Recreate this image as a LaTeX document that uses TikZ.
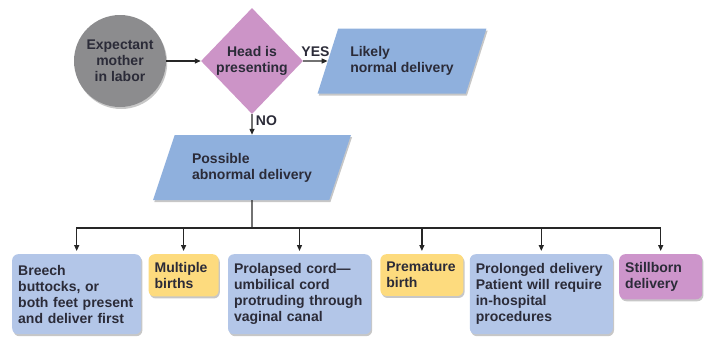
\documentclass[tikz,border=0pt]{standalone}
\usepackage{fontspec}
\setmainfont{Liberation Sans}
\usepackage{xcolor}
\usetikzlibrary{arrows.meta,positioning,shapes.geometric,shadows}
\definecolor{MotherGray}{HTML}{8C8C8E}
\definecolor{DecisionPink}{HTML}{CC94C7}
\definecolor{OutcomeBlue}{HTML}{8FB0DD}
\definecolor{CaseBlue}{HTML}{B3C6E8}
\definecolor{CaseYellow}{HTML}{FDDB7E}
\definecolor{CasePurple}{HTML}{CD95CB}
\definecolor{LabelInk}{HTML}{2B2B38}
\newcommand{\chartfont}{\fontsize{14}{16}\selectfont\bfseries}
\tikzset{
  softshadow/.style={
    drop shadow={shadow xshift=1.2pt, shadow yshift=-2pt, opacity=0.22, fill=black}
  },
  startnode/.style={
    circle,
    fill=MotherGray,
    minimum size=92pt,
    inner sep=0pt,
    align=center,
    font=\chartfont,
    text=LabelInk,
    softshadow
  },
  decision/.style={
    diamond,
    fill=DecisionPink,
    minimum width=102pt,
    minimum height=106pt,
    inner sep=0pt,
    align=center,
    font=\chartfont,
    text=LabelInk
  },
  outcome/.style={
    trapezium,
    trapezium left angle=60,
    trapezium right angle=120,
    trapezium stretches=true,
    fill=OutcomeBlue,
    minimum height=65pt,
    inner sep=0pt,
    align=left,
    font=\chartfont,
    text=LabelInk,
    softshadow
  },
  casebox/.style={
    rounded corners=6pt,
    inner xsep=6pt,
    inner ysep=8pt,
    align=left,
    font=\chartfont,
    text=LabelInk,
    softshadow
  },
  tallbox/.style={casebox, minimum height=80pt},
  arrow/.style={-{Triangle[length=6pt,width=5pt]}, line width=1.3pt, draw=black!85},
  branch/.style={line width=1.3pt, draw=black!85}
}

\begin{document}
\begin{tikzpicture}[x=1pt,y=-1pt]
  \useasboundingbox (0,0) rectangle (712,343);
  \node[startnode] (mother) at (120,61) {Expectant\\mother\\in labor};
  \node[decision] (head) at (252,61) {Head is\\presenting};
  \node[outcome, minimum width=169pt] (likely) at (402,61)
    {Likely\\normal delivery};
  \node[outcome, minimum width=198pt] (possible) at (252,167.5)
    {Possible\\abnormal delivery};
  \coordinate (split) at (252,228);
  % row of abnormal cases
  \node[tallbox, fill=CaseBlue, text width=117pt, anchor=north west] (breech) at (12,254)
    {Breech\\buttocks, or\\both feet present\\and deliver first};
  \node[casebox, fill=CaseYellow, text width=58pt, right=7pt of breech.north east, anchor=north west] (multiple)
    {Multiple\\births};
  \node[tallbox, fill=CaseBlue, text width=131pt, right=9pt of multiple.north east, anchor=north west] (prolapsed)
    {Prolapsed cord—\\umbilical cord\\protruding through\\vaginal canal};
  \node[casebox, fill=CaseYellow, text width=71pt, right=9pt of prolapsed.north east, anchor=north west] (premature)
    {Premature\\birth};
  \node[tallbox, fill=CaseBlue, text width=131pt, right=6pt of premature.north east, anchor=north west] (prolonged)
    {Prolonged delivery\\Patient will require\\in-hospital\\procedures};
  \node[casebox, fill=CasePurple, text width=71pt, right=6pt of prolonged.north east, anchor=north west] (stillborn)
    {Stillborn\\delivery};
  \draw[arrow] (mother) -- (head);
  \draw[arrow] (head) -- node[above, font=\chartfont, text=LabelInk] {YES} (likely);
  \draw[arrow] (head) -- node[right, pos=0.3, font=\chartfont, text=LabelInk] {NO} (possible);
  \draw[branch] (possible.south) -- (split);
  \foreach \c in {breech,multiple,prolapsed,premature,prolonged,stillborn}
    \draw[arrow, shorten >=3pt] (split) -| (\c.north);
\end{tikzpicture}
\end{document}
